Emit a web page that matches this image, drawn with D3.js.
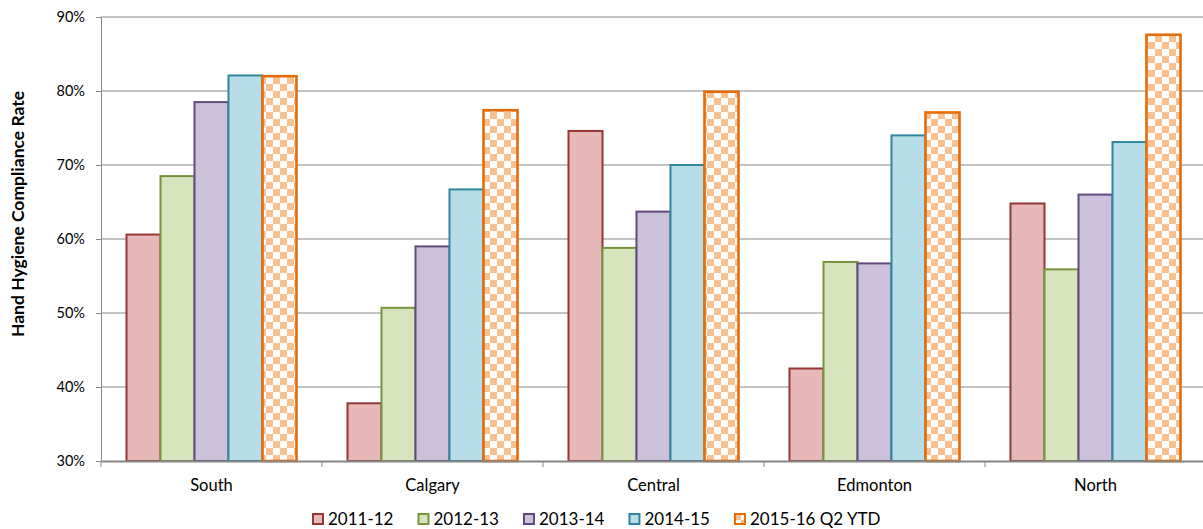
<!DOCTYPE html>
<html>
<head>
<meta charset="utf-8">
<script src="https://cdn.jsdelivr.net/npm/d3@7/dist/d3.min.js"></script>
<style>
  body { margin: 0; background: #fff; }
  svg { display: block; font-family: Lato, "Open Sans", sans-serif; }
</style>
</head>
<body>
<svg id="chart" width="1203" height="529"></svg>
<script>
const regions = ["South", "Calgary", "Central", "Edmonton", "North"];
const years = ["2011-12", "2012-13", "2013-14", "2014-15", "2015-16 Q2 YTD"];
const rate2011 = [60.6, 37.8, 74.6, 42.5, 64.8];
const rate2012 = [68.5, 50.7, 58.8, 56.9, 55.9];
const rate2013 = [78.5, 59.0, 63.7, 56.7, 66.0];
const rate2014 = [82.1, 66.7, 70.0, 74.0, 73.1];
const rate2015 = [82.0, 77.4, 79.9, 77.1, 87.6];
const yTicks = [30, 40, 50, 60, 70, 80, 90];

const allRates = [rate2011, rate2012, rate2013, rate2014, rate2015];
const fills = ["#E6B9B8", "#D7E4BD", "#CCC1DA", "#B7DEE8", "url(#checks)"];
const strokes = ["#953735", "#77933C", "#604A7B", "#31859C", "#E46C0A"];

const svg = d3.select("#chart");
const plotLeft = 101, plotRight = 1206, plotTop = 17, plotBottom = 461;

// checkerboard for the YTD bars
const defs = svg.append("defs");
const cell = 7;
const pat = defs.append("pattern")
  .attr("id", "checks")
  .attr("patternUnits", "userSpaceOnUse")
  .attr("width", cell * 2)
  .attr("height", cell * 2);
pat.append("rect").attr("width", cell * 2).attr("height", cell * 2).attr("fill", "#fff");
pat.append("rect").attr("width", cell).attr("height", cell).attr("fill", "#FAC090");
pat.append("rect").attr("x", cell).attr("y", cell).attr("width", cell).attr("height", cell).attr("fill", "#FAC090");

const x = d3.scaleBand().domain(regions).range([plotLeft, plotRight]).padding(0);
const xInner = d3.scaleBand().domain(years).range([25.5, 195.5]).padding(0);
const y = d3.scaleLinear().domain([30, 90]).range([plotBottom, plotTop]);

// gridlines
svg.append("g")
  .selectAll("line")
  .data(yTicks.slice(1))
  .join("line")
  .attr("x1", plotLeft)
  .attr("x2", plotRight)
  .attr("y1", d => y(d))
  .attr("y2", d => y(d))
  .attr("stroke", "#878787")
  .attr("stroke-width", 1);

// y axis
const yAxis = svg.append("g")
  .attr("transform", `translate(${plotLeft},0)`)
  .call(d3.axisLeft(y).tickValues(yTicks).tickSize(5).tickPadding(11).tickFormat(d => d + "%"));
yAxis.select(".domain").attr("stroke", "#878787");
yAxis.selectAll(".tick line").attr("stroke", "#878787");
yAxis.selectAll("text").attr("font-size", 14.5).attr("fill", "#000").attr("font-family", "Lato");

// bars
allRates.forEach((vals, i) => {
  svg.append("g")
    .selectAll("rect")
    .data(vals)
    .join("rect")
    .attr("x", (d, j) => x(regions[j]) + xInner(years[i]))
    .attr("y", d => y(d))
    .attr("width", xInner.bandwidth())
    .attr("height", d => plotBottom - y(d))
    .attr("fill", fills[i])
    .attr("stroke", strokes[i])
    .attr("stroke-width", i === 4 ? 2.6 : 2);
});

// x axis
const xAxis = svg.append("g")
  .attr("transform", `translate(0,${plotBottom})`)
  .call(d3.axisBottom(x).tickSize(0).tickPadding(18));
xAxis.select(".domain").attr("stroke", "#878787").attr("stroke-width", 2);
xAxis.selectAll("text").attr("font-size", 16.5).attr("fill", "#000").attr("font-family", "Lato");
xAxis.selectAll(".bound")
  .data(regions.map(r => x(r)).concat([plotRight]))
  .join("line")
  .attr("class", "bound")
  .attr("x1", d => d)
  .attr("x2", d => d)
  .attr("y1", 0)
  .attr("y2", 6)
  .attr("stroke", "#878787");

// y title
svg.append("text")
  .attr("transform", "translate(24,214) rotate(-90)")
  .attr("text-anchor", "middle")
  .attr("font-size", 17.5)
  .attr("font-weight", "bold")
  .text("Hand Hygiene Compliance Rate");

// legend
const legend = svg.append("g").attr("transform", "translate(312,513)");
let lx = 0;
years.forEach((yr, i) => {
  const item = legend.append("g").attr("transform", `translate(${lx},0)`);
  item.append("rect")
    .attr("x", 1).attr("y", 1)
    .attr("width", 10).attr("height", 10)
    .attr("fill", fills[i])
    .attr("stroke", strokes[i])
    .attr("stroke-width", 2);
  const t = item.append("text")
    .attr("x", 16)
    .attr("y", 12)
    .attr("font-size", 17)
    .text(yr);
  lx += 16 + t.node().getComputedTextLength() + 24;
});
</script>
</body>
</html>
